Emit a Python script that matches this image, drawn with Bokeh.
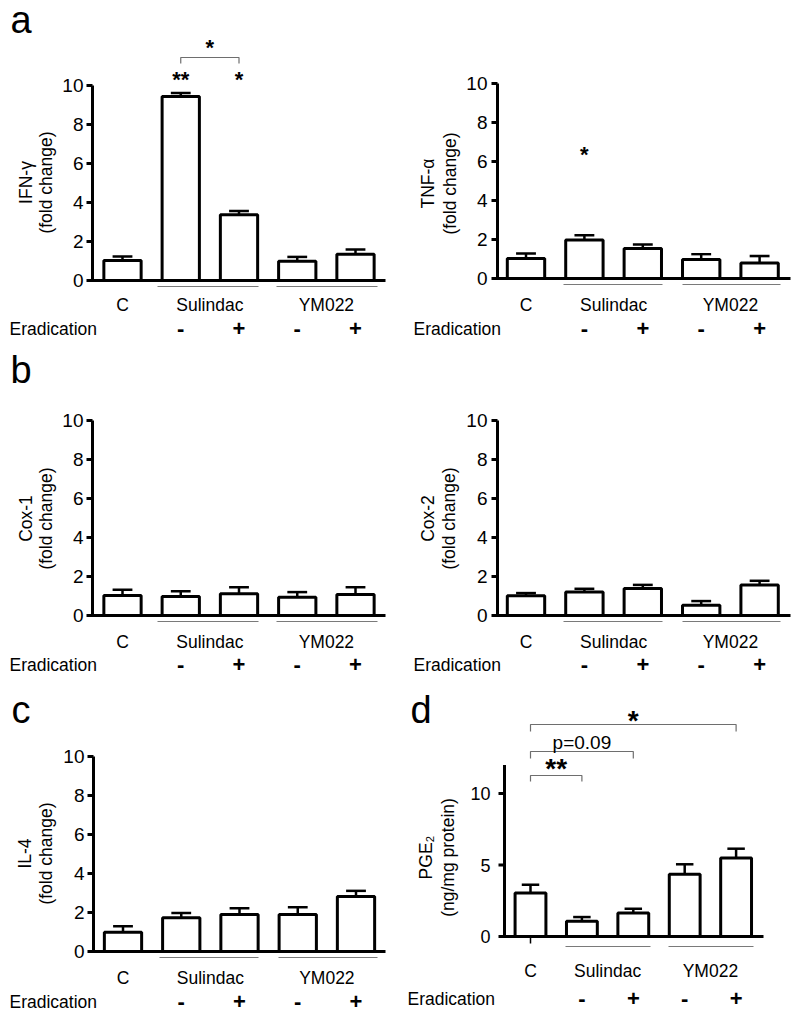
import math
from bokeh.plotting import figure
from bokeh.layouts import gridplot
from bokeh.models import ColumnDataSource, Range1d
from bokeh.embed import file_html
from bokeh.resources import INLINE
from bokeh.core.properties import value

FONT = "Liberation Sans"

# ---- data ----
bar_groups = ["C", "Sulindac", "Sulindac", "YM022", "YM022"]
eradication = ["", "-", "+", "-", "+"]
group_names = ["C", "Sulindac", "YM022"]

ifng_mean = [1.03, 9.44, 3.37, 0.99, 1.35]
ifng_sem = [0.20, 0.18, 0.20, 0.22, 0.24]

tnfa_mean = [1.03, 1.97, 1.54, 0.97, 0.80]
tnfa_sem = [0.25, 0.25, 0.20, 0.28, 0.35]

cox1_mean = [1.03, 0.97, 1.11, 0.94, 1.08]
cox1_sem = [0.29, 0.28, 0.34, 0.26, 0.37]

cox2_mean = [1.01, 1.21, 1.38, 0.53, 1.57]
cox2_sem = [0.14, 0.16, 0.19, 0.21, 0.21]

il4_mean = [0.99, 1.73, 1.90, 1.90, 2.82]
il4_sem = [0.31, 0.25, 0.32, 0.37, 0.29]

pge2_mean = [3.04, 1.07, 1.64, 4.35, 5.49]
pge2_sem = [0.58, 0.29, 0.30, 0.70, 0.65]

fold_ticks = [0, 2, 4, 6, 8, 10]
fold_tick_labels = ["0", "2", "4", "6", "8", "10"]
pge2_ticks = [0, 5, 10]
pge2_tick_labels = ["0", "5", "10"]

# ---- layout geometry (page pixels) ----
GEO = {
    "a": dict(fig=(0, 0, 400, 340), axis_x=92, base=280, ten=85, bar0=122, step=58.25, axis_end=385,
              group_y=286, lines=[(157, 258), (276, 377)], cat_y=304, erad_y=328, erad_x=9,
              letter=(10, 33), bw=0.64, ylab_x=(25, 45), ylab_y=182, tick_right=83),
    "t": dict(fig=(400, 0, 392, 340), axis_x=497, base=278, ten=83, bar0=525.5, step=58.4, axis_end=790,
              group_y=284, lines=[(563, 662), (682, 780)], cat_y=304, erad_y=328, erad_x=413,
              letter=None, bw=0.64, ylab_x=(427, 449), ylab_y=183, tick_right=487),
    "b": dict(fig=(0, 340, 400, 340), axis_x=92, base=615, ten=420, bar0=122, step=58.25, axis_end=385,
              group_y=621, lines=[(157, 258), (276, 377)], cat_y=641, erad_y=664, erad_x=9,
              letter=(10, 383), bw=0.64, ylab_x=(25, 45), ylab_y=518, tick_right=83),
    "x": dict(fig=(400, 340, 392, 340), axis_x=497, base=615, ten=420, bar0=525.5, step=58.4, axis_end=790,
              group_y=621, lines=[(563, 662), (682, 780)], cat_y=641, erad_y=664, erad_x=413,
              letter=None, bw=0.64, ylab_x=(427, 448), ylab_y=518, tick_right=487),
    "c": dict(fig=(0, 680, 400, 338), axis_x=93, base=951, ten=756, bar0=122.5, step=58.25, axis_end=385,
              group_y=957, lines=[(159, 258), (278, 377)], cat_y=977, erad_y=1001, erad_x=9,
              letter=(11, 723), bw=0.64, ylab_x=(24, 45), ylab_y=853, tick_right=84),
    "d": dict(fig=(400, 680, 392, 338), axis_x=504, base=936, ten=793, bar0=530, step=51.4, axis_end=763,
              group_y=946, lines=[(565, 650), (668, 753)], cat_y=970, erad_y=998, erad_x=407,
              letter=(410, 723), bw=0.60, ylab_x=(425, 447), ylab_y=857, tick_right=490),
}


def make_panel(g, ylabel, means, sems, ticks, tick_labels, top, letter=None, stars=(), brackets=(),
               c_tick=False, tick_font="19px"):
    x0, y0, w, h = g["fig"]
    unit = (g["base"] - g["ten"]) / 10.0

    def X(px):
        return (px - g["bar0"]) / g["step"]

    def Y(py):
        return (g["base"] - py) / unit

    p = figure(width=w, height=h,
               x_range=Range1d(X(x0), X(x0 + w)),
               y_range=Range1d(Y(y0 + h), Y(y0)),
               x_axis_location=None, y_axis_location=None,
               min_border_left=0, min_border_right=0,
               min_border_top=0, min_border_bottom=0,
               output_backend="svg", toolbar_location=None)
    p.outline_line_color = None
    p.grid.visible = False
    p.background_fill_color = "white"
    p.border_fill_color = "white"

    ax = X(g["axis_x"])
    # y axis line, ticks, tick labels
    p.segment(x0=ax, x1=ax, y0=0, y1=top, line_width=3, line_color="black")
    p.segment(x0=[X(g["axis_x"] - 6)] * len(ticks), x1=[ax] * len(ticks), y0=ticks, y1=ticks,
              line_width=3, line_color="black")
    p.text(x=[X(g["tick_right"])] * len(ticks), y=ticks, text=tick_labels,
           text_font=value(FONT), text_font_size=tick_font, text_align="right",
           text_baseline="middle", text_color="black")
    # y axis label (two rotated lines)
    lines = ylabel.split("\n")
    p.text(x=[X(v) for v in g["ylab_x"]], y=[Y(g["ylab_y"])] * len(lines), text=lines,
           angle=math.pi / 2, text_font=value(FONT), text_font_size="17.5px",
           text_align="center", text_baseline="middle", text_color="black")

    idx = list(range(len(means)))
    src = ColumnDataSource(dict(
        x=idx, top=means, err=[m + s for m, s in zip(means, sems)],
        cl=[i - 0.17 for i in idx], cr=[i + 0.17 for i in idx]))

    # x baseline
    p.segment(x0=X(g["axis_x"] - 1.5), x1=X(g["axis_end"]), y0=0, y1=0, line_width=3, line_color="black")
    if c_tick:
        p.segment(x0=0, x1=0, y0=0, y1=Y(g["base"] + 7), line_width=1.5, line_color="black")

    p.vbar(x="x", top="top", bottom=0, width=g["bw"], source=src,
           fill_color="white", line_color="black", line_width=3)
    p.segment(x0="x", x1="x", y0="top", y1="err", source=src, line_width=2.5, line_color="black")
    p.segment(x0="cl", x1="cr", y0="err", y1="err", source=src, line_width=2.5, line_color="black")

    # group underlines
    gy = Y(g["group_y"])
    p.segment(x0=[X(a) for a, b in g["lines"]], x1=[X(b) for a, b in g["lines"]],
              y0=[gy] * len(g["lines"]), y1=[gy] * len(g["lines"]),
              line_width=1.2, line_color="#7a7a7a")

    # category labels
    gx = []
    for name in group_names:
        members = [i for i, gname in enumerate(bar_groups) if gname == name]
        gx.append(sum(members) / len(members))
    p.text(x=gx, y=[Y(g["cat_y"])] * len(gx), text=group_names,
           text_font=value(FONT), text_font_size="17.5px", text_align="center",
           text_baseline="middle", text_color="black")

    # eradication row
    p.text(x=idx, y=[Y(g["erad_y"])] * len(idx), text=eradication,
           text_font=value(FONT), text_font_size="22px", text_font_style="bold",
           text_align="center", text_baseline="middle", text_color="black")
    p.text(x=[X(g["erad_x"])], y=[Y(g["erad_y"])], text=["Eradication"],
           text_font=value(FONT), text_font_size="17.5px", text_align="left",
           text_baseline="middle", text_color="black")

    if letter is not None and g["letter"] is not None:
        lx, ly = g["letter"]
        p.text(x=[X(lx)], y=[Y(ly - 13.2)], text=[letter], text_font=value(FONT),
               text_font_size="38px", text_align="left",
               text_baseline="middle", text_color="black")

    # significance brackets
    for (i0, i1, ytop, ytick) in brackets:
        yt, yk = Y(ytop), Y(ytick)
        p.multi_line(xs=[[i0, i0, i1, i1]], ys=[[yk, yt, yt, yk]],
                     line_color="#6e6e6e", line_width=1.2)

    # stars / p-values (x in bar index units, y = page center of glyph)
    for (sx, cy, txt, fs) in stars:
        if txt.startswith("*"):
            p.text(x=[sx], y=[Y(cy + 0.1 * fs)], text=[txt], text_font=value(FONT),
                   text_font_size=f"{fs}px", text_font_style="bold", text_align="center",
                   text_baseline="middle", text_color="black")
        else:
            p.text(x=[sx], y=[Y(cy)], text=[txt], text_font=value(FONT),
                   text_font_size=f"{fs}px", text_align="center",
                   text_baseline="middle", text_color="black")
    return p


pa = make_panel(GEO["a"], "IFN-γ\n(fold change)", ifng_mean, ifng_sem, fold_ticks, fold_tick_labels, 10,
                letter="a", stars=[(1, 77, "**", 22), (2, 77, "*", 22), (1.5, 45, "*", 22)],
                brackets=[(1, 2, 57, 63)])
pt = make_panel(GEO["t"], "TNF-α\n(fold change)", tnfa_mean, tnfa_sem, fold_ticks, fold_tick_labels, 10,
                stars=[(1, 152, "*", 22)])
pb = make_panel(GEO["b"], "Cox-1\n(fold change)", cox1_mean, cox1_sem, fold_ticks, fold_tick_labels, 10,
                letter="b")
px = make_panel(GEO["x"], "Cox-2\n(fold change)", cox2_mean, cox2_sem, fold_ticks, fold_tick_labels, 10)
pc = make_panel(GEO["c"], "IL-4\n(fold change)", il4_mean, il4_sem, fold_ticks, fold_tick_labels, 10,
                letter="c")
pd = make_panel(GEO["d"], "PGE₂\n(ng/mg protein)", pge2_mean, pge2_sem, pge2_ticks, pge2_tick_labels, 12,
                letter="d",
                stars=[(0.5, 765, "**", 28), (1.0, 742, "p=0.09", 19), (2.0, 717, "*", 28)],
                brackets=[(0, 1, 775, 781), (0, 2, 751, 758), (0, 4, 724, 731)],
                c_tick=True, tick_font="18px")

grid = gridplot([[pa, pt], [pb, px], [pc, pd]], toolbar_location=None)
open("out.html", "w").write(file_html(grid, INLINE))
